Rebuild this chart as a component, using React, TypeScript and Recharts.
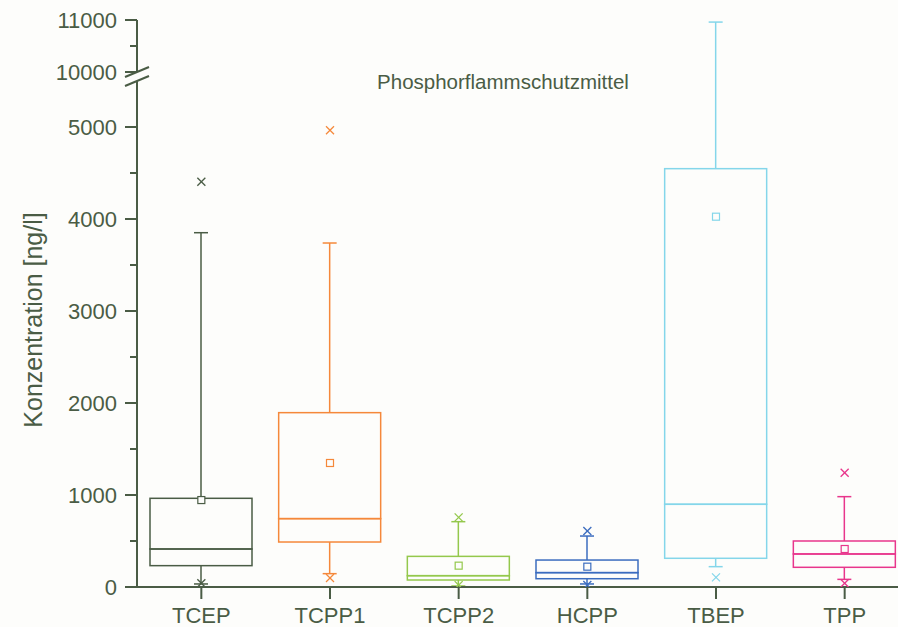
import React from 'react';
import { ComposedChart, Bar, Scatter, XAxis, YAxis } from 'recharts';

// Phosphorflammschutzmittel – Boxplot (Werte in ng/l)
const categories = ['TCEP', 'TCPP1', 'TCPP2', 'HCPP', 'TBEP', 'TPP'];
const whiskerLow = [33, 145, 11, 33, 221, 83];
const q1 = [232, 489, 76, 90, 312, 214];
const median = [413, 743, 123, 156, 899, 359];
const q3 = [964, 1895, 333, 293, 4547, 500];
const whiskerHigh = [3851, 3739, 710, 554, 10960, 982];
const mean = [945, 1348, 232, 221, 4025, 413];
const pctHigh: (number | null)[] = [4405, 4964, 757, 609, null, 1242];
const pctLow = [40, 98, 20, 22, 105, 40];

const majorTicks = [0, 1000, 2000, 3000, 4000, 5000, 10000, 11000];
const minorTicks = [500, 1500, 2500, 3500, 4500, 10500];

const colors = ['#4a5c45', '#f5883a', '#94c84c', '#3b6cbf', '#84d6ea', '#e8368c'];
const AXIS = '#4a5c45';
const BG = '#fdfdfb';
const FONT = '"Liberation Sans", Arial, sans-serif';

// Achsenbruch: 0..5600 linear, danach 10000..11000 gestaucht
const BREAK_FROM = 10000;
const BREAK_AT = 5598;
const UPPER_SCALE = 0.565;
const toAxis = (v: number) => (v < BREAK_FROM ? v : BREAK_AT + (v - BREAK_FROM) * UPPER_SCALE);

const labelByAxis = new Map(majorTicks.map((v) => [Math.round(toAxis(v)), v]));

const rows = categories.map((name, i) => ({
  name,
  base: toAxis(whiskerLow[i]),
  lowWhisker: toAxis(q1[i]) - toAxis(whiskerLow[i]),
  lowBox: toAxis(median[i]) - toAxis(q1[i]),
  highBox: toAxis(q3[i]) - toAxis(median[i]),
  highWhisker: toAxis(whiskerHigh[i]) - toAxis(q3[i]),
  mean: toAxis(mean[i]),
  pHigh: pctHigh[i] == null ? null : toAxis(pctHigh[i] as number),
  pLow: toAxis(pctLow[i]),
}));

const colorOf = (p: any) => colors[categories.indexOf(p?.payload?.name)] ?? colors[p?.index ?? 0];

const Empty = () => <g />;

const LowWhisker = (p: any) => {
  const c = colorOf(p);
  const cx = p.x + p.width / 2;
  const yb = p.y + p.height;
  return (
    <g stroke={c} strokeWidth={1.5}>
      <line x1={cx} x2={cx} y1={p.y} y2={yb} />
      <line x1={cx - 7} x2={cx + 7} y1={yb} y2={yb} />
    </g>
  );
};

const HighWhisker = (p: any) => {
  const c = colorOf(p);
  const cx = p.x + p.width / 2;
  return (
    <g stroke={c} strokeWidth={1.5}>
      <line x1={cx} x2={cx} y1={p.y} y2={p.y + p.height} />
      <line x1={cx - 7} x2={cx + 7} y1={p.y} y2={p.y} />
    </g>
  );
};

const BoxPart = (p: any) => (
  <rect x={p.x} y={p.y} width={p.width} height={p.height} fill="none" stroke={colorOf(p)} strokeWidth={1.5} />
);

const MeanMark = (p: any) => {
  if (!Number.isFinite(p.cy)) return <g />;
  return <rect x={p.cx - 3.5} y={p.cy - 3.5} width={7} height={7} fill={BG} stroke={colorOf(p)} strokeWidth={1.2} />;
};

const Cross = (p: any) => {
  if (p.cy == null || !Number.isFinite(p.cy)) return <g />;
  const s = 4;
  return (
    <g stroke={colorOf(p)} strokeWidth={1.3}>
      <line x1={p.cx - s} y1={p.cy - s} x2={p.cx + s} y2={p.cy + s} />
      <line x1={p.cx - s} y1={p.cy + s} x2={p.cx + s} y2={p.cy - s} />
    </g>
  );
};

const HighCross = (p: any) => (p?.payload?.pHigh == null ? <g /> : <Cross {...p} />);

const YTick = (p: any) => {
  const { x, y } = p;
  const label = labelByAxis.get(Math.round(p.payload.value));
  if (label === undefined) {
    return <line x1={x - 7} x2={x} y1={y} y2={y} stroke={AXIS} strokeWidth={2} />;
  }
  return (
    <g>
      {label === BREAK_FROM && (
        <g stroke={AXIS} strokeWidth={2}>
          <polygon points={`${x - 12},${y + 5} ${x + 12},${y - 5} ${x + 12},${y + 4} ${x - 12},${y + 14}`} fill={BG} stroke="none" />
          <line x1={x - 12} y1={y + 5} x2={x + 12} y2={y - 5} />
          <line x1={x - 12} y1={y + 14} x2={x + 12} y2={y + 4} />
        </g>
      )}
      <line x1={x - 12} x2={x} y1={y} y2={y} stroke={AXIS} strokeWidth={2} />
      <text x={x - 20} y={y} dy="0.36em" textAnchor="end" fontSize={22} fontFamily={FONT} fill={AXIS}>
        {label}
      </text>
    </g>
  );
};

const XTick = (p: any) => {
  const { x, y } = p;
  return (
    <g>
      <line x1={x} x2={x} y1={y} y2={y + 12} stroke={AXIS} strokeWidth={2} />
      <text x={x} y={y + 36} textAnchor="middle" fontSize={22} fontFamily={FONT} fill={AXIS}>
        {p.payload.value}
      </text>
    </g>
  );
};

export default function App() {
  const yTicks = [...majorTicks, ...minorTicks].map(toAxis).sort((a, b) => a - b);
  return (
    <div style={{ position: 'absolute', left: 0, top: 0, width: 898, height: 627, overflow: 'hidden', background: BG }}>
      <ComposedChart width={920} height={627} data={rows} margin={{ top: 20, right: 11, left: 0, bottom: 0 }}>
        <XAxis
          dataKey="name"
          height={40}
          interval={0}
          tickSize={0}
          tickMargin={0}
          tickLine={false}
          axisLine={{ stroke: AXIS, strokeWidth: 2 }}
          tick={<XTick />}
        />
        <YAxis
          type="number"
          width={137}
          domain={[0, toAxis(11000)]}
          ticks={yTicks}
          interval={0}
          allowDataOverflow
          tickSize={0}
          tickMargin={0}
          tickLine={false}
          axisLine={{ stroke: AXIS, strokeWidth: 2 }}
          tick={<YTick />}
        />
        <Bar dataKey="base" stackId="box" barSize={102} shape={<Empty />} isAnimationActive={false} />
        <Bar dataKey="lowWhisker" stackId="box" barSize={102} shape={LowWhisker} isAnimationActive={false} />
        <Bar dataKey="lowBox" stackId="box" barSize={102} shape={BoxPart} isAnimationActive={false} />
        <Bar dataKey="highBox" stackId="box" barSize={102} shape={BoxPart} isAnimationActive={false} />
        <Bar dataKey="highWhisker" stackId="box" barSize={102} shape={HighWhisker} isAnimationActive={false} />
        <Scatter dataKey="mean" shape={MeanMark} isAnimationActive={false} />
        <Scatter dataKey="pHigh" shape={HighCross} isAnimationActive={false} />
        <Scatter dataKey="pLow" shape={Cross} isAnimationActive={false} />
      </ComposedChart>
      <svg width={898} height={627} style={{ position: 'absolute', left: 0, top: 0, pointerEvents: 'none' }}>
        <text x={503} y={89} textAnchor="middle" fontSize={20.5} fontFamily={FONT} fill={AXIS}>
          Phosphorflammschutzmittel
        </text>
        <text
          x={0}
          y={0}
          transform="translate(42 320) rotate(-90)"
          textAnchor="middle"
          fontSize={25}
          fontFamily={FONT}
          fill={AXIS}
        >
          Konzentration [ng/l]
        </text>
      </svg>
    </div>
  );
}
